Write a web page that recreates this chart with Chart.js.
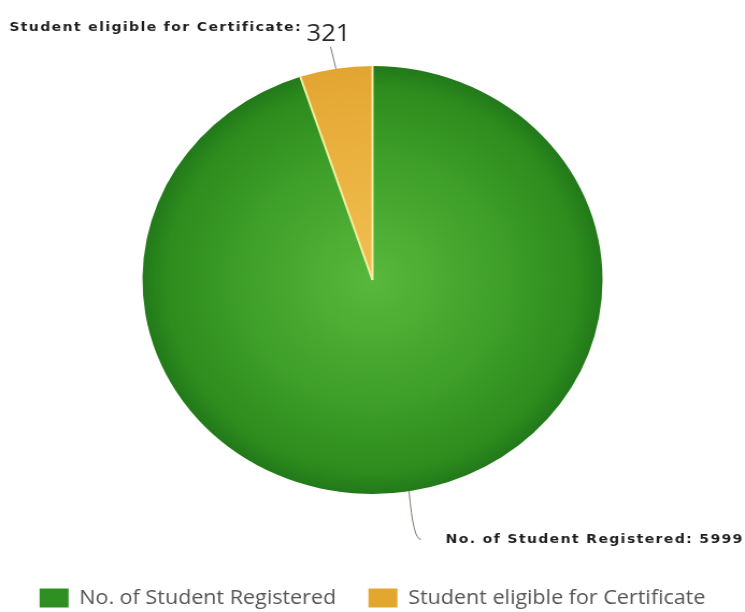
<!DOCTYPE html>
<html>
<head>
<meta charset="utf-8">
<script src="https://cdn.jsdelivr.net/npm/chart.js@4.4.1/dist/chart.umd.min.js"></script>
<style>
  html, body { margin: 0; padding: 0; background: #ffffff; overflow: hidden; }
  #wrap { width: 693px; height: 612px; transform: scaleX(1.075); transform-origin: 0 0; }
  canvas { display: block; }
</style>
</head>
<body>
<div id="wrap"><canvas id="chart" width="693" height="612"></canvas></div>
<script>
// Slice names and counts
const categories = ['No. of Student Registered', 'Student eligible for Certificate'];
const studentCounts = [5999, 321];

// Flat swatch colours for the legend
const swatchColors = ['#2f8f22', '#e2a72e'];

// Radial shading for each slice: [offset, colour]
const shadeStops = [
  [[0, '#58b83c'], [0.55, '#3fa02a'], [0.9, '#2d8c1d'], [1, '#22791a']],
  [[0, '#f0c052'], [0.6, '#eab13e'], [1, '#e3a532']]
];

const PIE_RADIUS = 214;
const CALLOUT_FONT = 'bold 13px "DejaVu Sans"';
const CALLOUT_SPACING = '1.3px';

function radialFill(context) {
  const chart = context.chart;
  const stops = shadeStops[context.dataIndex];
  const area = chart.chartArea;
  if (!area || !isFinite(area.left) || !isFinite(area.top)) return stops[stops.length - 1][1];
  const cx = (area.left + area.right) / 2;
  const cy = (area.top + area.bottom) / 2;
  const g = chart.ctx.createRadialGradient(cx, cy, 0, cx, cy, PIE_RADIUS);
  stops.forEach(([o, c]) => g.addColorStop(o, c));
  return g;
}

// Pale separators between slices, then leader lines and value labels
const calloutPlugin = {
  id: 'callouts',
  afterDatasetsDraw(chart) {
    const ctx = chart.ctx;
    const meta = chart.getDatasetMeta(0);

    meta.data.forEach((arc) => {
      const p = arc.getProps(['x', 'y', 'startAngle', 'outerRadius'], true);
      ctx.save();
      ctx.strokeStyle = '#f2efa4';
      ctx.lineWidth = 2;
      ctx.beginPath();
      ctx.moveTo(p.x, p.y);
      ctx.lineTo(p.x + Math.cos(p.startAngle) * p.outerRadius, p.y + Math.sin(p.startAngle) * p.outerRadius);
      ctx.stroke();
      ctx.restore();
    });

    meta.data.forEach((arc, i) => {
      const p = arc.getProps(['x', 'y', 'startAngle', 'endAngle', 'outerRadius'], true);
      const mid = (p.startAngle + p.endAngle) / 2;
      const px = p.x + Math.cos(mid) * p.outerRadius;
      const py = p.y + Math.sin(mid) * p.outerRadius;
      const name = categories[i];
      const value = studentCounts[i];
      ctx.save();
      if (py < p.y) {
        // label above the pie
        const ex = px - 5, ey = py - 22;
        ctx.strokeStyle = '#7a7a7a';
        ctx.lineWidth = 1;
        ctx.beginPath();
        ctx.moveTo(px, py);
        ctx.lineTo(ex, ey);
        ctx.stroke();
        ctx.fillStyle = '#2a2a2a';
        ctx.font = '24px "Open Sans"';
        ctx.textAlign = 'center';
        ctx.textBaseline = 'alphabetic';
        const vx = ex - 2, vy = ey - 6;
        ctx.fillText(String(value), vx, vy);
        const vw = ctx.measureText(String(value)).width;
        ctx.font = CALLOUT_FONT;
        ctx.letterSpacing = CALLOUT_SPACING;
        ctx.textAlign = 'right';
        ctx.fillStyle = '#1e1e1e';
        ctx.fillText(name + ':', vx - vw / 2 - 4, vy - 10);
      } else {
        // label below the pie
        const ex = px + 11, ey = py + 48;
        ctx.strokeStyle = '#6f7f6a';
        ctx.lineWidth = 1;
        ctx.beginPath();
        ctx.moveTo(px, py);
        ctx.quadraticCurveTo(px + 4, ey + 1, ex, ey);
        ctx.stroke();
        ctx.fillStyle = '#1e1e1e';
        ctx.font = CALLOUT_FONT;
        ctx.letterSpacing = CALLOUT_SPACING;
        ctx.textAlign = 'left';
        ctx.textBaseline = 'middle';
        ctx.fillText(name + ': ' + value, ex + 23, ey);
      }
      ctx.restore();
    });
  }
};

new Chart(document.getElementById('chart'), {
  type: 'pie',
  data: {
    labels: categories,
    datasets: [{
      data: studentCounts,
      backgroundColor: radialFill,
      borderWidth: 0,
      radius: PIE_RADIUS
    }]
  },
  options: {
    responsive: false,
    animation: false,
    events: [],
    layout: { padding: { top: 2, bottom: -6, left: 0, right: 0 } },
    plugins: {
      tooltip: { enabled: false },
      legend: {
        position: 'bottom',
        labels: {
          boxWidth: 27,
          boxHeight: 19,
          padding: 30,
          color: '#555555',
          font: { family: '"Open Sans"', size: 20 },
          generateLabels(chart) {
            return categories.map((c, i) => ({
              text: c,
              fillStyle: swatchColors[i],
              strokeStyle: swatchColors[i],
              lineWidth: 0,
              fontColor: '#555555',
              hidden: false,
              index: i
            }));
          }
        }
      }
    }
  },
  plugins: [calloutPlugin]
});
</script>
</body>
</html>
